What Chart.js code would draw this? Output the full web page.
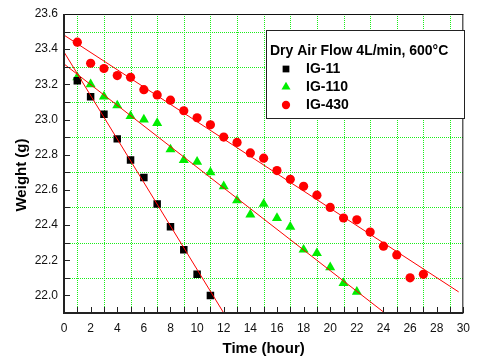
<!DOCTYPE html>
<html>
<head>
<meta charset="utf-8">
<script src="https://cdn.jsdelivr.net/npm/chart.js@4.4.1/dist/chart.umd.min.js"></script>
<style>
html, body { margin:0; padding:0; background:#fff; }
</style>
</head>
<body>
<canvas id="chart" width="478" height="363"></canvas>
<script>
// значения
const hours11 = [1, 2, 3, 4, 5, 6, 7, 8, 9, 10, 11];
const ig11 = [23.22, 23.13, 23.03, 22.89, 22.77, 22.67, 22.52, 22.39, 22.26, 22.12, 22.00];

const hours110 = [1, 2, 3, 4, 5, 6, 7, 8, 9, 10, 11, 12, 13, 14, 15, 16, 17, 18, 19, 20, 21, 22];
const ig110 = [23.24, 23.20, 23.13, 23.08, 23.02, 23.00, 22.98, 22.83, 22.77, 22.76, 22.70,
               22.62, 22.54, 22.46, 22.52, 22.44, 22.39, 22.26, 22.24, 22.16, 22.07, 22.02];

const hours430 = [1, 2, 3, 4, 5, 6, 7, 8, 9, 10, 11, 12, 13, 14, 15, 16, 17, 18, 19, 20,
                  21, 22, 23, 24, 25, 26, 27];
const ig430 = [23.44, 23.32, 23.29, 23.25, 23.24, 23.17, 23.14, 23.11, 23.05, 23.01, 22.97,
               22.90, 22.87, 22.81, 22.78, 22.71, 22.66, 22.62, 22.57, 22.50, 22.44, 22.43,
               22.36, 22.28, 22.23, 22.10, 22.12];

// линии аппроксимации (концы)
const fit11X = [0, 12], fit11Y = [23.384, 21.90];
const fit110X = [0, 24.1], fit110Y = [23.316, 21.90];
const fit430X = [0, 29.65], fit430Y = [23.48, 22.02];

// сетка: вертикальные линии на нечётных часах, горизонтальные на 23.5, 23.3 ...
const gridHours = [1, 3, 5, 7, 9, 11, 13, 15, 17, 19, 21, 23, 25, 27, 29];
const gridWeights = [22.1, 22.3, 22.5, 22.7, 22.9, 23.1, 23.3, 23.5];

const seriesNames = ['IG-11', 'IG-110', 'IG-430'];
const legendTitle = 'Dry Air Flow 4L/min, 600°C';
const xTitle = 'Time (hour)';
const yTitle = 'Weight (g)';

const FONT = '"Liberation Sans", Arial, sans-serif';
const GRID = '#1aee1a';

function pts(xs, ys) { return xs.map((x, i) => ({x: x, y: ys[i]})); }

function pointSet(label, xs, ys, style, color, r) {
    return {
        label: label, data: pts(xs, ys), order: 2,
        pointStyle: style, pointRadius: r, pointHoverRadius: r,
        backgroundColor: color, borderColor: color, borderWidth: 0, showLine: false
    };
}
function fitSet(xs, ys) {
    return {
        label: '', data: pts(xs, ys), order: 0, showLine: true,
        pointRadius: 0, borderColor: '#ff0000', borderWidth: 1, fill: false
    };
}

// сетка точками (1px через 1px)
const gridPlugin = {
    id: 'dotgrid',
    beforeDatasetsDraw(chart) {
        const {ctx, chartArea: a} = chart;
        const sx = chart.scales.x, sy = chart.scales.y;
        ctx.save();
        ctx.fillStyle = GRID;
        gridHours.forEach(h => {
            const px = Math.round(sx.getPixelForValue(h));
            for (let py = Math.ceil(a.top); py < a.bottom; py += 2) ctx.fillRect(px, py, 1, 1);
        });
        gridWeights.forEach(w => {
            const py = Math.round(sy.getPixelForValue(w));
            for (let px = Math.ceil(a.left); px < a.right; px += 2) ctx.fillRect(px, py, 1, 1);
        });
        ctx.restore();
    }
};

const decorPlugin = {
    id: 'decor',
    afterDraw(chart) {
        const {ctx, chartArea: a} = chart;
        const sx = chart.scales.x, sy = chart.scales.y;
        ctx.save();
        // засечки внутрь
        ctx.fillStyle = '#222';
        for (let h = 0; h <= 30; h++) {
            const px = Math.round(sx.getPixelForValue(h));
            ctx.fillRect(px, a.bottom - 6, 1, 6);
        }
        sy.ticks.forEach(t => {
            const py = Math.round(sy.getPixelForValue(t.value));
            ctx.fillRect(a.left, py, 6, 1);
        });
        // рамка
        ctx.fillStyle = '#111';
        ctx.fillRect(a.left, a.top, a.right - a.left, 1);
        ctx.fillRect(a.right - 1, a.top, 1, a.bottom - a.top);
        ctx.fillStyle = '#222';
        ctx.fillRect(a.left - 1, a.top, 2, a.bottom - a.top + 1);
        ctx.fillRect(a.left - 1, a.bottom - 1, a.right - a.left + 1, 2);

        // подписи осей
        ctx.fillStyle = '#000';
        ctx.font = 'bold 15px ' + FONT;
        ctx.textAlign = 'center';
        ctx.textBaseline = 'middle';
        ctx.fillText(xTitle, (a.left + a.right) / 2, 349);
        ctx.save();
        ctx.translate(22, 175);
        ctx.rotate(-Math.PI / 2);
        ctx.fillText(yTitle, 0, 0);
        ctx.restore();

        // легенда
        const bx = 266.5, by = 30.5, bw = 198, bh = 88;
        ctx.fillStyle = '#fff';
        ctx.fillRect(bx, by, bw, bh);
        ctx.strokeStyle = '#222';
        ctx.lineWidth = 1;
        ctx.strokeRect(bx, by, bw, bh);
        ctx.fillStyle = '#000';
        ctx.font = 'bold 14px ' + FONT;
        ctx.textAlign = 'left';
        ctx.fillText(legendTitle, 270, 51);
        const rows = [69, 87, 105];
        seriesNames.forEach((name, i) => {
            const ds = chart.data.datasets[i];
            ctx.fillStyle = ds.backgroundColor;
            Chart.helpers.drawPoint(ctx, {pointStyle: ds.pointStyle, radius: ds.pointRadius * 0.9, rotation: 0, borderWidth: 0}, 286, rows[i]);
            ctx.fillStyle = '#000';
            ctx.fillText(name, 306, rows[i]);
        });
        ctx.restore();
    }
};

Chart.defaults.font.family = FONT;
Chart.defaults.color = '#111';

new Chart(document.getElementById('chart'), {
    type: 'scatter',
    data: {
        datasets: [
            pointSet(seriesNames[0], hours11, ig11, 'rect', '#000000', 5.3),
            pointSet(seriesNames[1], hours110, ig110, 'triangle', '#00ee00', 5.8),
            pointSet(seriesNames[2], hours430, ig430, 'circle', '#ff0000', 4.6),
            fitSet(fit11X, fit11Y),
            fitSet(fit110X, fit110Y),
            fitSet(fit430X, fit430Y)
        ]
    },
    options: {
        responsive: false,
        animation: false,
        layout: {padding: {top: 14, right: 7, left: 0, bottom: 0}},
        plugins: {legend: {display: false}, tooltip: {enabled: false}},
        scales: {
            x: {
                type: 'linear', min: 0, max: 30,
                afterFit(s) { s.height = 50; },
                ticks: {
                    stepSize: 1, autoSkip: false, maxRotation: 0, padding: 8,
                    font: {size: 12},
                    callback: v => (Math.round(v) % 2 === 0 ? String(Math.round(v)) : '')
                },
                grid: {display: false, drawTicks: false},
                border: {display: false}
            },
            y: {
                type: 'linear', min: 21.9, max: 23.6,
                afterFit(s) { s.width = 64; },
                ticks: {
                    stepSize: 0.1, autoSkip: false, padding: 6,
                    font: {size: 12},
                    callback: v => {
                        const k = Math.round(v * 10);
                        return (k % 2 === 0 && k >= 220) ? (k / 10).toFixed(1) : '';
                    }
                },
                grid: {display: false, drawTicks: false},
                border: {display: false}
            }
        }
    },
    plugins: [gridPlugin, decorPlugin]
});
</script>
</body>
</html>
